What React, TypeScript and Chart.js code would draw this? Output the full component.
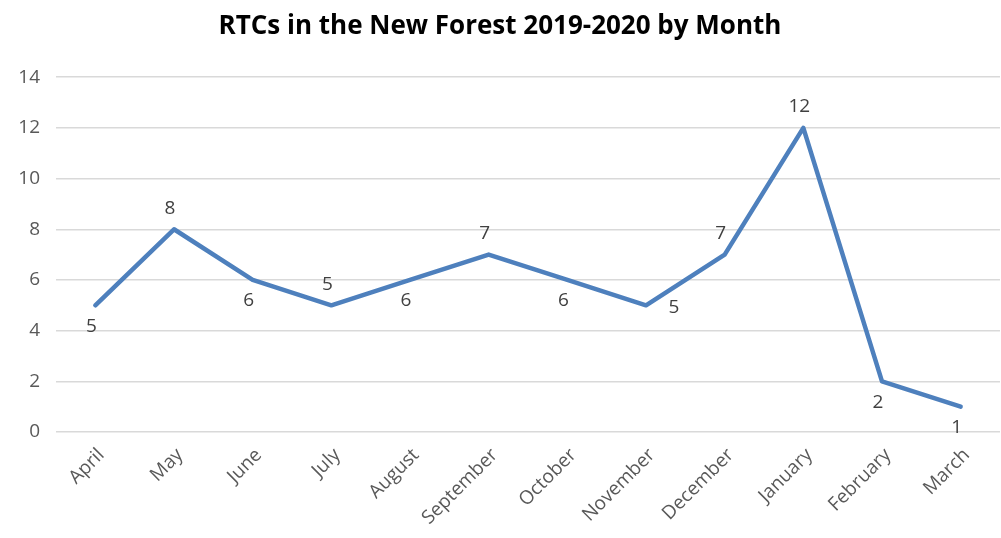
import React, { useEffect, useRef } from "react";
import { Chart, registerables } from "chart.js";

Chart.register(...registerables);

const months = [
  "April", "May", "June", "July", "August", "September",
  "October", "November", "December", "January", "February", "March",
];
const rtcCounts = [5, 8, 6, 5, 6, 7, 6, 5, 7, 12, 2, 1];
const yTicks = [0, 2, 4, 6, 8, 10, 12, 14];
const labelPlacement = [
  "below", "above", "below", "above", "below", "above",
  "below", "right", "above", "above", "below", "below",
];

const FONT = "'Open Sans', 'Noto Sans', sans-serif";

const dataLabelPlugin = {
  id: "pointLabels",
  afterDatasetsDraw(chart: any) {
    const ctx = chart.ctx;
    const meta = chart.getDatasetMeta(0);
    const values = chart.data.datasets[0].data;
    ctx.save();
    ctx.font = `19px ${FONT}`;
    ctx.fillStyle = "#404040";
    ctx.textAlign = "center";
    ctx.textBaseline = "middle";
    meta.data.forEach((pt: any, i: number) => {
      const place = labelPlacement[i];
      let dx = -4;
      let dy = 0;
      if (place === "above") dy = -21;
      else if (place === "below") dy = 21;
      else if (place === "right") { dx = 28; dy = 2; }
      ctx.fillText(String(values[i]), pt.x + dx, pt.y + dy);
    });
    ctx.restore();
  },
};

export default function App() {
  const ref = useRef<HTMLCanvasElement | null>(null);
  useEffect(() => {
    if (!ref.current) return;
    const chart = new Chart(ref.current, {
      type: "line",
      data: {
        labels: months,
        datasets: [
          {
            data: rtcCounts,
            borderColor: "#4e80bd",
            borderWidth: 4.5,
            pointRadius: 0,
            pointHoverRadius: 0,
            tension: 0,
            borderCapStyle: "round",
            borderJoinStyle: "round",
            fill: false,
          },
        ],
      },
      options: {
        animation: false,
        responsive: true,
        maintainAspectRatio: false,
        layout: { padding: { left: 0, right: 1, top: 0, bottom: 0 } },
        plugins: {
          legend: { display: false },
          tooltip: { enabled: false },
          title: {
            display: true,
            text: "RTCs in the New Forest 2019-2020 by Month",
            color: "#000000",
            font: { family: FONT, size: 26, weight: "bold" },
            padding: { top: 11, bottom: 35 },
          },
        },
        scales: {
          x: {
            offset: true,
            grid: { display: false, drawTicks: false },
            border: { display: false },
            ticks: {
              color: "#595959",
              font: { family: FONT, size: 19 },
              maxRotation: 45,
              minRotation: 45,
              padding: 12,
              labelOffset: 6,
              autoSkip: false,
            },
            afterFit(scale: any) {
              scale.height = 106;
            },
          },
          y: {
            min: 0,
            max: 14,
            afterBuildTicks(scale: any) {
              scale.ticks = yTicks.map((v) => ({ value: v }));
            },
            grid: { color: "#d9d9d9", lineWidth: 1.5, drawTicks: false },
            border: { display: false },
            ticks: {
              color: "#595959",
              font: { family: FONT, size: 19 },
              padding: 16,
            },
            afterFit(scale: any) {
              scale.width = 56;
            },
          },
        },
      },
      plugins: [dataLabelPlugin],
    } as any);
    return () => chart.destroy();
  }, []);

  return (
    <div style={{ position: "fixed", left: 0, top: 0, width: 1001, height: 538, background: "#ffffff" }}>
      <canvas ref={ref} />
    </div>
  );
}
